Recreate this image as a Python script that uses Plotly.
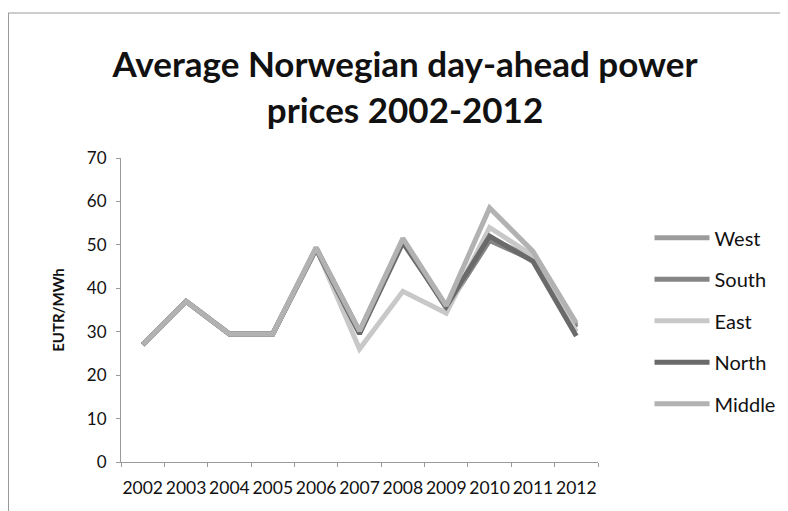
import plotly.graph_objects as go

years = ["2002", "2003", "2004", "2005", "2006", "2007", "2008", "2009", "2010", "2011", "2012"]
west = [27.0, 37.0, 29.5, 29.5, 49.3, 30.0, 51.0, 35.5, 51.5, 47.0, 31.5]
south = [27.0, 37.0, 29.5, 29.5, 49.3, 30.0, 51.0, 35.5, 51.0, 46.5, 31.0]
east = [27.0, 37.0, 29.5, 29.5, 49.3, 26.0, 39.3, 34.3, 54.0, 47.5, 30.0]
north = [27.0, 37.0, 29.5, 29.5, 49.0, 29.5, 50.5, 35.8, 52.0, 46.2, 29.0]
middle = [27.0, 37.0, 29.5, 29.5, 49.3, 30.2, 51.5, 36.0, 58.5, 48.5, 32.0]

series = [
    ("West", west, "#9c9c9c"),
    ("South", south, "#858585"),
    ("East", east, "#c8c8c8"),
    ("North", north, "#6a6a6a"),
    ("Middle", middle, "#b2b2b2"),
]

fig = go.Figure()
for i, (name, vals, col) in enumerate(series):
    fig.add_trace(go.Scatter(
        x=years, y=vals, name=name, mode="lines",
        line=dict(color=col, width=5),
        legendgroup=f"g{i}",
    ))

FONT = "Lato"
L, T, H, W = 113, 150, 304, 477
fig.update_layout(
    width=788, height=511,
    margin=dict(l=L, r=788 - L - W, t=T, b=511 - T - H, autoexpand=False),
    paper_bgcolor="white", plot_bgcolor="white",
    font=dict(family=FONT, color="#111111", size=16),
    title=dict(
        text="<b>Average Norwegian day-ahead power<br>prices 2002-2012</b>",
        x=397 / 788, xanchor="center", y=1 - 69 / 511, yanchor="middle",
        font=dict(family=FONT, size=35, color="#111111"),
    ),
    showlegend=True,
    legend=dict(
        x=1.108, xanchor="left", y=0.802, yanchor="top",
        font=dict(family=FONT, size=20, color="#111111"),
        tracegroupgap=12.5, itemwidth=55, bgcolor="rgba(0,0,0,0)",
    ),
    xaxis=dict(
        type="category", showgrid=False, showline=True, linecolor="#9a9a9a",
        linewidth=1, ticks="outside", tickson="boundaries", ticklen=4,
        tickcolor="#9a9a9a", tickangle=0, automargin=False, ticklabelstandoff=10,
        tickfont=dict(family=FONT, size=17.5, color="#111111"),
        range=[-0.5, 10.5],
    ),
    yaxis=dict(
        range=[0, 70], dtick=10, showgrid=False, showline=True, linecolor="#9a9a9a",
        linewidth=1, ticks="outside", ticklen=4, tickcolor="#9a9a9a", automargin=False,
        ticklabelstandoff=6,
        tickfont=dict(family=FONT, size=17, color="#111111"),
        title=dict(text="<b>EUTR/MWh</b>", font=dict(family=FONT, size=15, color="#111111"), standoff=18),
    ),
)

# scanned frame border (top and left)
fig.add_shape(type="line", xref="paper", yref="paper",
              x0=(0 - L) / W, x1=(800 - L) / W, y0=(T + H - 5) / H, y1=(T + H - 5) / H,
              line=dict(color="#9a9a9a", width=1))
fig.add_shape(type="line", xref="paper", yref="paper",
              x0=(0.5 - L) / W, x1=(0.5 - L) / W, y0=(T + H - 5) / H, y1=(T + H - 520) / H,
              line=dict(color="#9a9a9a", width=1))

fig.write_html("out.html")
